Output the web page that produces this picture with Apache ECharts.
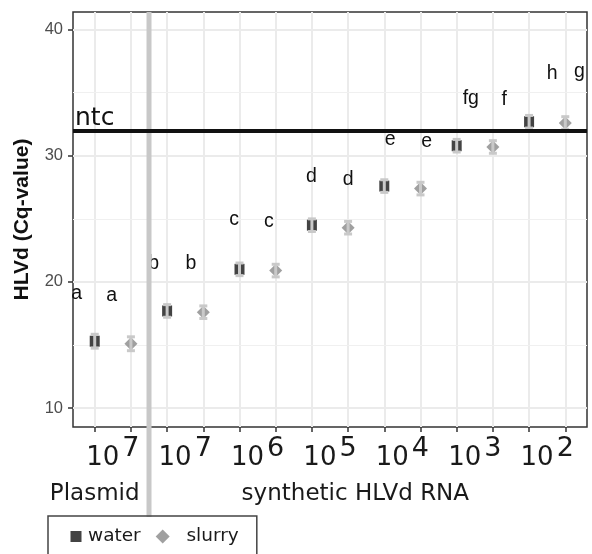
<!DOCTYPE html>
<html><head><meta charset="utf-8">
<script src="https://cdn.jsdelivr.net/npm/echarts@6/dist/echarts.min.js"></script>
<style>html,body{margin:0;padding:0;background:#fff}#c{width:592px;height:554px}</style>
</head><body><div id="c"></div>
<script>
// ---- data ----
const groups = ['Plasmid', 'synthetic HLVd RNA'];
const groupCenter = [1, 8.2];            // x position (category units) of group captions
const exponents = [7, 7, 6, 5, 4, 3, 2];  // tick labels 10^n
const yTicks = [10, 20, 30, 40];
const yMinorGrid = [15, 25, 35];
const waterCq  = [15.3, 17.7, 21.0, 24.5, 27.6, 30.8, 32.7];
const waterSd  = [0.55, 0.5, 0.5, 0.5, 0.5, 0.5, 0.5];
const slurryCq = [15.1, 17.6, 20.9, 24.3, 27.4, 30.7, 32.6];
const slurrySd = [0.55, 0.5, 0.5, 0.5, 0.5, 0.5, 0.5];
const letters  = ['a','a','b','b','c','c','d','d','e','e','fg','f','h','g'];
const letterX  = [0.5, 1.47, 2.63, 3.66, 4.85, 5.81, 6.99, 8.0, 9.16, 10.17, 11.39, 12.31, 13.64, 14.39];
const letterY  = [19.05, 18.9, 21.45, 21.45, 24.95, 24.8, 28.35, 28.1, 31.25, 31.15, 34.55, 34.45, 36.55, 36.7];
const ntcCq = 32;
const dividerX = 2.5;

const waterX  = waterCq.map((_, i) => 2 * i + 1);
const slurryX = slurryCq.map((_, i) => 2 * i + 2);
const catTicks = waterX.concat(slurryX).sort((a, b) => a - b);
const labelPos = exponents.map((_, i) => 2 * i + 1.5);

function errorSeries(xs, means, sds) {
  return {
    type: 'custom', z: 4, silent: true,
    renderItem(params, api) {
      const x = api.value(0);
      const pLo = api.coord([x, api.value(1)]);
      const pHi = api.coord([x, api.value(2)]);
      const hw = 4;
      const style = { stroke: '#c9c9c9', lineWidth: 3 };
      return { type: 'group', children: [
        { type: 'line', shape: { x1: pLo[0], y1: pLo[1], x2: pHi[0], y2: pHi[1] }, style },
        { type: 'line', shape: { x1: pLo[0] - hw, y1: pLo[1], x2: pLo[0] + hw, y2: pLo[1] }, style },
        { type: 'line', shape: { x1: pHi[0] - hw, y1: pHi[1], x2: pHi[0] + hw, y2: pHi[1] }, style }
      ]};
    },
    encode: { x: 0, y: [1, 2] },
    data: means.map((m, i) => [xs[i], m - sds[i], m + sds[i]])
  };
}

const chart = echarts.init(document.getElementById('c'), null, { renderer: 'canvas' });
const squareIcon = 'path://M0,0 M14,14 M1.5,1.5 L12.5,1.5 L12.5,12.5 L1.5,12.5 Z';

const option = {
  animation: false,
  backgroundColor: '#fff',
  grid: { left: 73, right: 5, top: 12, bottom: 127, show: true, borderColor: '#333', borderWidth: 1.5, backgroundColor: '#fff' },
  xAxis: {
    type: 'value', min: 0.4, max: 14.6,
    axisLine: { show: false },
    axisTick: { show: true, customValues: catTicks, length: 5, lineStyle: { color: '#333', width: 1.5 } },
    splitLine: { show: true, lineStyle: { color: '#ebebeb', width: 2 } },
    axisLabel: {
      customValues: labelPos, margin: 8,
      formatter: v => '{b|10}{s|' + exponents[Math.round((v - 1.5) / 2)] + '}',
      rich: {
        b: { fontSize: 26, fontFamily: 'DejaVu Sans', color: '#1a1a1a', padding: [10, 0, 0, 0] },
        s: { fontSize: 27, fontFamily: 'DejaVu Sans', color: '#1a1a1a', verticalAlign: 'top', padding: [0, 0, 0, 3] }
      }
    }
  },
  yAxis: {
    type: 'value', min: 8.5, max: 41.4,
    name: 'HLVd (Cq-value)', nameLocation: 'middle', nameGap: 40,
    nameTextStyle: { fontSize: 21, fontWeight: 'bold', fontFamily: 'Liberation Sans', color: '#111' },
    axisLine: { show: false },
    axisTick: { show: true, customValues: yTicks, length: 5, lineStyle: { color: '#333', width: 1.5 } },
    splitLine: { show: true, lineStyle: { color: '#ebebeb', width: 2 } },
    axisLabel: { customValues: yTicks, margin: 10, fontSize: 16.5, fontFamily: 'Liberation Sans', color: '#4d4d4d' }
  },
  legend: {
    left: 48, top: 516, orient: 'horizontal', selectedMode: false,
    data: [{ name: 'water', icon: squareIcon }, { name: 'slurry', icon: 'diamond' }],
    itemWidth: 14, itemHeight: 14, itemGap: 15,
    padding: [11, 18, 14, 21],
    borderColor: '#444', borderWidth: 1.5,
    formatter: n => n === 'slurry' ? '  ' + n : n,
    textStyle: { fontSize: 18.5, fontFamily: 'DejaVu Sans', color: '#1a1a1a' }
  },
  series: [
    {
      name: 'letters', type: 'custom', z: 1, silent: true,
      encode: { x: 0, y: 1 },
      data: letterX.map((x, i) => [x, letterY[i]]),
      renderItem(params, api) {
        const p = api.coord([api.value(0), api.value(1)]);
        return { type: 'text', x: p[0], y: p[1],
          style: { text: letters[params.dataIndex], fontSize: 19.5, fontFamily: 'Liberation Sans',
                   fill: '#111', align: 'center', verticalAlign: 'middle' } };
      },
      markLine: {
        silent: true, symbol: 'none', z: 0, animation: false,
        label: { show: false },
        lineStyle: { color: '#f0f0f0', width: 1, type: 'solid' },
        data: yMinorGrid.map(v => ({ yAxis: v }))
      }
    },
    {
      name: 'water', type: 'scatter', z: 3, symbol: 'rect', symbolSize: [10, 11],
      itemStyle: { color: '#141414' },
      data: waterX.map((x, i) => [x, waterCq[i]]),
      markLine: {
        silent: true, symbol: 'none', z: 5, animation: false,
        lineStyle: { color: '#111', width: 4, type: 'solid' },
        label: { show: true, formatter: 'ntc', position: 'insideStartTop', distance: [2, 0],
                 fontSize: 25, fontFamily: 'DejaVu Sans', color: '#111' },
        data: [{ yAxis: ntcCq }]
      }
    },
    {
      name: 'slurry', type: 'scatter', z: 3, symbol: 'diamond', symbolSize: [13, 13],
      itemStyle: { color: '#888888' },
      data: slurryX.map((x, i) => [x, slurryCq[i]])
    },
    errorSeries(waterX, waterCq, waterSd),
    errorSeries(slurryX, slurryCq, slurrySd)
  ]
};
chart.setOption(option);

const gx = v => chart.convertToPixel({ xAxisIndex: 0 }, v);
const topY = chart.convertToPixel({ yAxisIndex: 0 }, 41.4);
chart.setOption({
  graphic: [
    { type: 'line', z: 2, silent: true,
      shape: { x1: gx(dividerX), y1: topY, x2: gx(dividerX), y2: 517 },
      style: { stroke: '#c8c8c8', lineWidth: 5 } },
    { type: 'text', x: gx(groupCenter[0]), y: 494, silent: true,
      style: { text: groups[0], fontSize: 23, fontFamily: 'DejaVu Sans', fill: '#1a1a1a', align: 'center', verticalAlign: 'middle' } },
    { type: 'text', x: gx(groupCenter[1]), y: 494, silent: true,
      style: { text: groups[1], fontSize: 23, fontFamily: 'DejaVu Sans', fill: '#1a1a1a', align: 'center', verticalAlign: 'middle' } }
  ]
});
</script></body></html>
